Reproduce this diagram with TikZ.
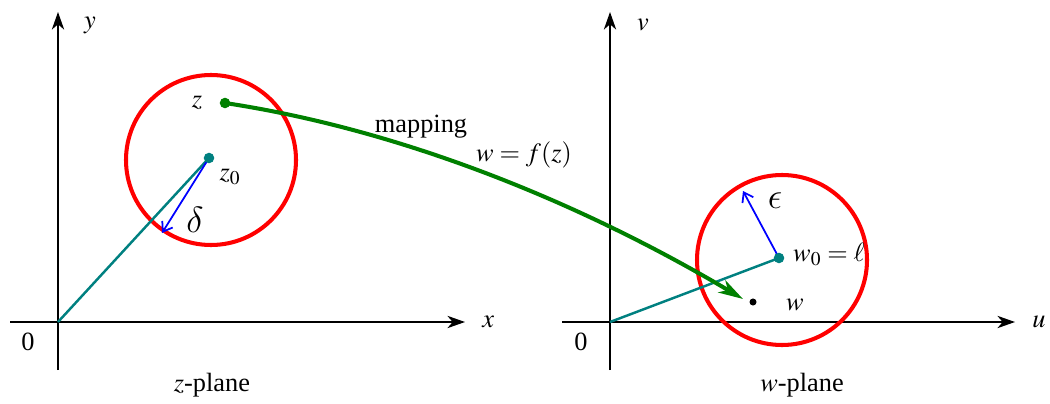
\documentclass[tikz,border=0pt]{standalone}
\usepackage{mathptmx}
\usepackage[no-math]{fontspec}
\setmainfont{Liberation Serif}
\DeclareSymbolFont{cmgreek}{OML}{lmm}{m}{it}
\DeclareMathSymbol{\delta}{\mathord}{cmgreek}{"0E}
\DeclareMathSymbol{\epsilon}{\mathord}{cmgreek}{"0F}
\usetikzlibrary{arrows.meta}
\begin{document}
\begin{tikzpicture}[x=0.02cm,y=0.02cm,
    every node/.style={font=\fontsize{15}{18}\selectfont},
    greek/.style={font=\fontsize{21}{25}\selectfont},
    axis/.style={line width=1pt,-{Stealth[length=10pt,width=7pt,inset=3pt]}},
    disc/.style={red,line width=2.3pt},
    radial/.style={teal,line width=1.4pt},
    eps/.style={blue,line width=1pt,-{Straight Barb[length=5pt,width=7pt]}}]
                \useasboundingbox (0,0) rectangle (1050,403);
                % 坐标轴 (z 平面)
                \coordinate (O1) at (58,81);
                \draw[axis] (10,81) -- (465,81) node[right=6pt] (xlab) {$x$};
                \draw[axis] (58,33) -- (58,391);
                \node (ylab) at (90,378) {$y$};
                \node (o1lab) at (28,61) {0};
                % 坐标轴 (w 平面)
                \coordinate (O2) at (610,81);
                \draw[axis] (562,81) -- (1015,81) node[right=6pt] (ulab) {$u$};
                \draw[axis] (610,33) -- (610,391);
                \node (vlab) at (643,378) {$v$};
                \node (o2lab) at (581,61) {0};
                % 邻域圆
                \draw[disc] (211,243) circle (85);
                \draw[disc] (782,143) circle (85);
                % 点
                \coordinate (Z0) at (209,245);
                \coordinate (Z) at (225,300);
                \coordinate (D) at (162,170);
                \coordinate (W0) at (779,145);
                \coordinate (E) at (743,212);
                \coordinate (W) at (753,101);
                \coordinate (T) at (743,104);
                % 向量 Oz0, Ow0
                \draw[radial] (O1) -- (Z0);
                \draw[radial] (O2) -- (W0);
                % 半径 delta, epsilon
                \draw[eps] (Z0) -- (D);
                \draw[eps] (W0) -- (E);
                % 映射曲线
                \draw[green!50!black,line width=2.3pt,-{Stealth[length=14pt,width=8pt,inset=4pt]}]
                    (Z) .. controls (410,272) and (590,195) .. (T);
                \fill[teal] (Z0) circle (3pt);
                \fill[teal] (W0) circle (3pt);
                \fill[green!50!black] (Z) circle (3pt);
                \fill (W) circle (2pt);
                % 标注
                \node (zlab) at (197,300) {$z$};
                \node (z0lab) at (230,226) {$z_0$};
                \node[greek] (dlab) at (195,183) {$\delta$};
                \node[greek] (elab) at (775,202) {$\epsilon$};
                \node[anchor=west] (w0lab) at (787,148) {$w_0=\ell$};
                \node (wlab) at (795,98) {$w$};
                \node (maplab) at (421,276) {mapping};
                \node (flab) at (524,248) {$w=f(z)$};
                \node (zplane) at (212,18) {$z$-plane};
                \node (wplane) at (802,18) {$w$-plane};
            \end{tikzpicture}
\end{document}
